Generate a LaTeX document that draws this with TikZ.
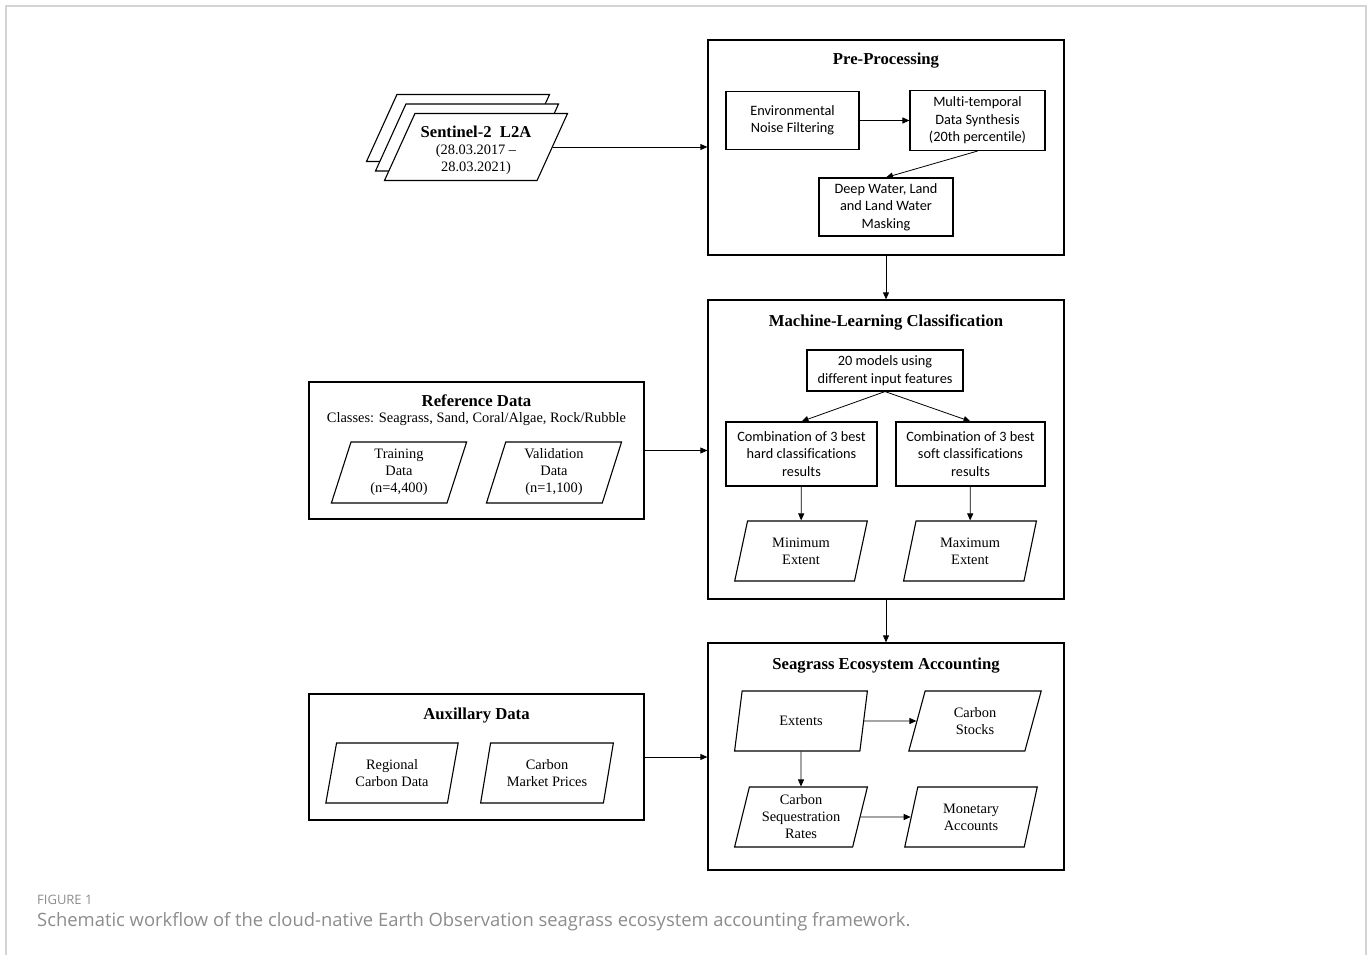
\documentclass[tikz,border=0pt]{standalone}
\usepackage{fontspec}
\setmainfont{Liberation Serif}
\newfontfamily\boxfont[Ligatures=NoCommon]{Carlito}
\newfontfamily\capfont{Open Sans}
\usetikzlibrary{shapes.geometric, arrows.meta, positioning}
\definecolor{framegray}{HTML}{D4D4D4}
\definecolor{capgray}{HTML}{8C8C8C}

\begin{document}
\begin{tikzpicture}[x=1pt, y=-1pt,
  group/.style={rectangle, draw=black, line width=1.3pt, fill=white, inner sep=0pt},
  proc/.style={rectangle, draw=black, line width=1.1pt, align=center, font=\boxfont\fontsize{14.3}{17.5}\selectfont, inner sep=2pt},
  data/.style={trapezium, trapezium left angle=76, trapezium right angle=104, trapezium stretches=true, draw=black, line width=1.1pt, fill=white, minimum width=133pt, minimum height=60pt, align=center, font=\fontsize{14.4}{17}\selectfont, inner sep=1pt},
  ttl/.style={font=\bfseries\fontsize{16.7}{19}\selectfont},
  arr/.style={-{Triangle[length=7pt,width=6pt]}, line width=0.8pt},
]
\useasboundingbox (0,0) rectangle (1370,955);
\draw[framegray, line width=1.5pt] (6,955) -- (6,6) -- (1366,6) -- (1366,955);

% input imagery
\node[data, minimum width=183pt, minimum height=67pt] (s2c) at (458,128) {};
\node[data, minimum width=183pt, minimum height=67pt] (s2b) at (467,137.5) {};
\node[data, minimum width=183pt, minimum height=67pt] (s2) at (476,147) {};
\node[align=center, font=\fontsize{14.4}{17}\selectfont] (s2text) at (476,150)
  {{\bfseries\fontsize{16.6}{19}\selectfont Sentinel-2\ \ L2A}\\(28.03.2017 --\\28.03.2021)};

% pre-processing
\node[group, minimum width=356pt, minimum height=215pt] (pre) at (886,147.5) {};
\node[ttl] (pretitle) at (886,61) {Pre-Processing};
\node[proc, minimum width=133pt, minimum height=58pt] (env) at (792.5,120.5) {Environmental\\Noise Filtering};
\node[proc, minimum width=135pt, minimum height=60pt] (multi) at (977.5,120.5) {Multi-temporal\\Data Synthesis\\(20th percentile)};
\node[proc, minimum width=134pt, minimum height=58pt] (deep) at (886,207) {Deep Water, Land\\and Land Water\\Masking};

% classification
\node[group, minimum width=356pt, minimum height=299pt] (ml) at (886,449.5) {};
\node[ttl] (mltitle) at (886,322) {Machine-Learning Classification};
\node[proc, minimum width=156pt, minimum height=41pt] (models) at (885,370.5) {20 models using\\different input features};
\node[proc, minimum width=151pt, minimum height=64pt] (hard) at (801.5,454) {Combination of 3 best\\hard classifications\\results};
\node[proc, minimum width=149pt, minimum height=64pt] (soft) at (970.5,454) {Combination of 3 best\\soft classifications\\results};
\node[data] (minext) at (801,551) {Minimum\\Extent};
\node[data] (maxext) at (970,551) {Maximum\\Extent};

% reference data
\node[group, minimum width=335pt, minimum height=137pt] (ref) at (476.5,450.5) {};
\node[ttl] (reftitle) at (476.5,400.5) {Reference Data};
\node[font=\fontsize{14.4}{17}\selectfont] (classes) at (476.5,419.5) {Classes: Seagrass, Sand, Coral/Algae, Rock/Rubble};
\node[data, minimum width=136pt, minimum height=61pt] (train) at (399,472.5) {Training\\Data\\(n=4,400)};
\node[data, minimum width=136pt, minimum height=61pt] (valid) at (554,472.5) {Validation\\Data\\(n=1,100)};

% accounting
\node[group, minimum width=356pt, minimum height=227pt] (sea) at (886,756.5) {};
\node[ttl] (seatitle) at (886,666) {Seagrass Ecosystem Accounting};
\node[data] (extents) at (801,721) {Extents};
\node[data] (stocks) at (975,721) {Carbon\\Stocks};
\node[data] (seqrates) at (801,817) {Carbon\\Sequestration\\Rates};
\node[data] (monetary) at (971,817) {Monetary\\Accounts};

% auxillary data
\node[group, minimum width=335pt, minimum height=126pt] (aux) at (476.5,757) {};
\node[ttl] (auxtitle) at (476.5,715) {Auxillary Data};
\node[data] (regional) at (392,773) {Regional\\Carbon Data};
\node[data] (market) at (547,773) {Carbon\\Market Prices};

% connectors
\draw[arr] (s2.east) -- (s2.east -| pre.west);
\draw[arr] (env) -- (multi);
\draw[arr] (multi.south) -- (deep.north);
\draw[arr] (pre.south) -- (ml.north);
\draw[arr] (models.south) -- (hard.north);
\draw[arr] (models.south) -- (soft.north);
\draw[arr] (hard) -- (minext);
\draw[arr] (soft) -- (maxext);
\draw[arr] (ref.east) -- (ref.east -| ml.west);
\draw[arr] (ml.south) -- (sea.north);
\draw[arr] (extents) -- (stocks);
\draw[arr] (extents) -- (seqrates);
\draw[arr] (seqrates) -- (monetary);
\draw[arr] (aux.east) -- (aux.east -| sea.west);

% caption
\node[anchor=west, text=capgray, font=\capfont\fontsize{13}{15}\selectfont, inner sep=0pt] (fig) at (37,900) {FIGURE 1};
\node[anchor=west, text=capgray, font=\capfont\fontsize{18.4}{21}\selectfont, inner sep=0pt] (cap) at (37,922)
  {Schematic workflow of the cloud-native Earth Observation seagrass ecosystem accounting framework.};
\end{tikzpicture}
\end{document}
